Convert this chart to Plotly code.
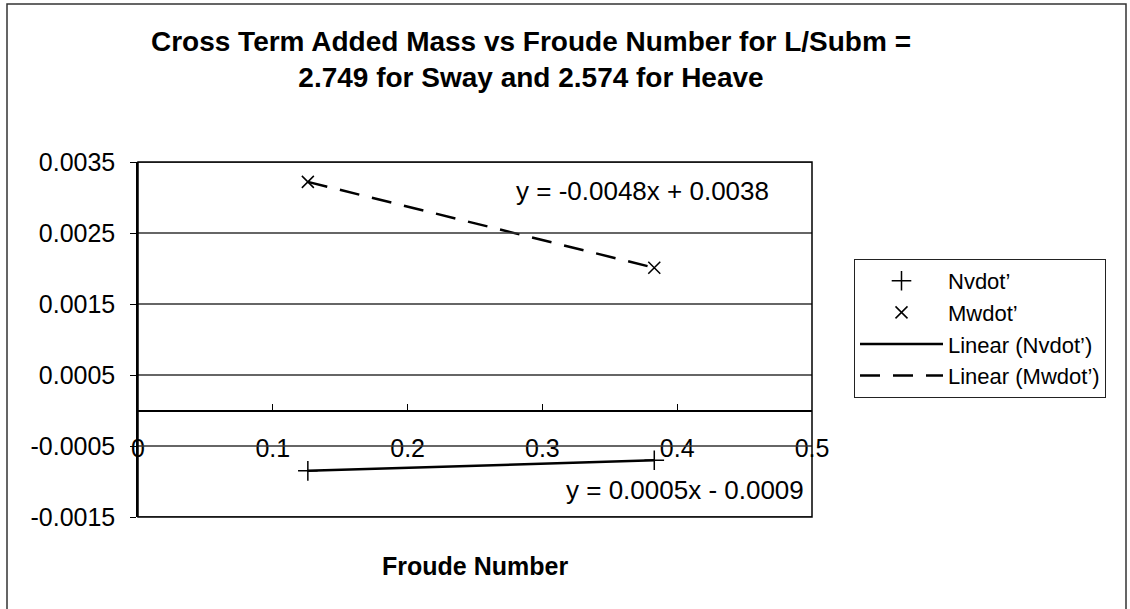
import plotly.graph_objects as go

# values
froude = [0.126, 0.383]
nvdot = [-0.00085, -0.00070]
mwdot = [0.00322, 0.00201]

x_ticks = [0, 0.1, 0.2, 0.3, 0.4, 0.5]
x_tick_text = ["0", "0.1", "0.2", "0.3", "0.4", "0.5"]
y_ticks = [-0.0015, -0.0005, 0.0005, 0.0015, 0.0025, 0.0035]
y_tick_text = ["-0.0015", "-0.0005", "0.0005", "0.0015", "0.0025", "0.0035"]

eq_nv = "y = 0.0005x - 0.0009"
eq_mw = "y = -0.0048x + 0.0038"

title_text = "Cross Term Added Mass vs Froude Number for L/Subm =<br>2.749 for Sway and 2.574 for Heave"

FONT = "Liberation Sans, Arial, sans-serif"
W, H = 1130, 609
# plot area in page pixels
PX0, PX1, PY0, PY1 = 138, 812, 162, 517
PW, PH = PX1 - PX0, PY1 - PY0

y_min, y_max = -0.0015, 0.0035
zero_pos = (0 - y_min) / (y_max - y_min)

fig = go.Figure()

# horizontal gridlines (drawn as shapes, the axis grid drops one under the free x axis)
for yv in y_ticks:
    fig.add_shape(type='line', xref='paper', yref='y', x0=0, x1=1, y0=yv, y1=yv,
                  line=dict(color='#333', width=1.5), layer='above')

fig.add_trace(go.Scatter(
    x=froude, y=nvdot, mode='markers', name="Nvdot’",
    marker=dict(symbol='cross-thin', size=14, color='black',
                line=dict(color='black', width=1.5))
))
fig.add_trace(go.Scatter(
    x=froude, y=mwdot, mode='markers', name="Mwdot’",
    marker=dict(symbol='x-thin', size=12, color='black',
                line=dict(color='black', width=1.5))
))
fig.add_trace(go.Scatter(
    x=froude, y=nvdot, mode='lines', name="Linear (Nvdot’)",
    line=dict(color='black', width=2.5)
))
fig.add_trace(go.Scatter(
    x=froude, y=mwdot, mode='lines', name="Linear (Mwdot’)",
    line=dict(color='black', width=2.5, dash='20px,13px')
))

fig.add_annotation(x=0.374, y=0.00309, xref='x', yref='y', text=eq_mw,
                   showarrow=False, font=dict(family=FONT, size=26, color='black'))
fig.add_annotation(x=0.406, y=-0.00112, xref='x', yref='y', text=eq_nv,
                   showarrow=False, font=dict(family=FONT, size=26, color='black'))
fig.add_annotation(x=0.5, y=(PY1 - 566) / PH, xref='paper', yref='paper',
                   text="<b>Froude Number</b>", showarrow=False,
                   yanchor='middle',
                   font=dict(family=FONT, size=25, color='black'))

# plot-area border and outer chart border
fig.add_shape(type='rect', xref='paper', yref='paper', x0=0, x1=1, y0=0, y1=1,
              line=dict(color='black', width=1.5), layer='above')
fig.add_shape(type='rect', xref='paper', yref='paper',
              x0=(7 - PX0) / PW, x1=(1126 - PX0) / PW,
              y0=(PY1 - 640) / PH, y1=(PY1 - 4) / PH,
              line=dict(color='#333', width=1.5))

fig.update_layout(
    width=W, height=H,
    margin=dict(l=PX0, r=W - PX1, t=PY0, b=H - PY1),
    paper_bgcolor='white', plot_bgcolor='white',
    font=dict(family=FONT, color='black'),
    title=dict(text=title_text, x=531 / W, xanchor='center',
               y=1 - 51 / H, yanchor='top',
               font=dict(family=FONT, size=28, color='black', weight='bold')),
    showlegend=True,
    legend=dict(x=(854 - PX0) / PW, y=(PY1 - 259) / PH, xanchor='left', yanchor='top',
                bordercolor='#222', borderwidth=1, bgcolor='white',
                font=dict(family=FONT, size=22, color='black'),
                itemwidth=83, tracegroupgap=0),
)

fig.update_xaxes(
    range=[0, 0.5], tickvals=x_ticks, ticktext=x_tick_text,
    anchor='free', position=zero_pos,
    showline=True, linecolor='black', linewidth=1.5,
    ticks='inside', ticklen=6, tickcolor='black',
    ticklabelstandoff=16,
    showgrid=False, zeroline=False,
    tickfont=dict(family=FONT, size=25, color='black'),
)
fig.update_yaxes(
    range=[y_min, y_max], tickvals=y_ticks, ticktext=y_tick_text,
    showline=True, linecolor='black', linewidth=1.5,
    ticks='outside', ticklen=6, tickcolor='black',
    ticklabelstandoff=10,
    showgrid=False, zeroline=False,
    tickfont=dict(family=FONT, size=25, color='black'),
)

# drop the default page margin so the figure sits at the window corner
fig.write_html("out.html", config={'displayModeBar': False},
               post_script="document.body.style.margin='0';")
